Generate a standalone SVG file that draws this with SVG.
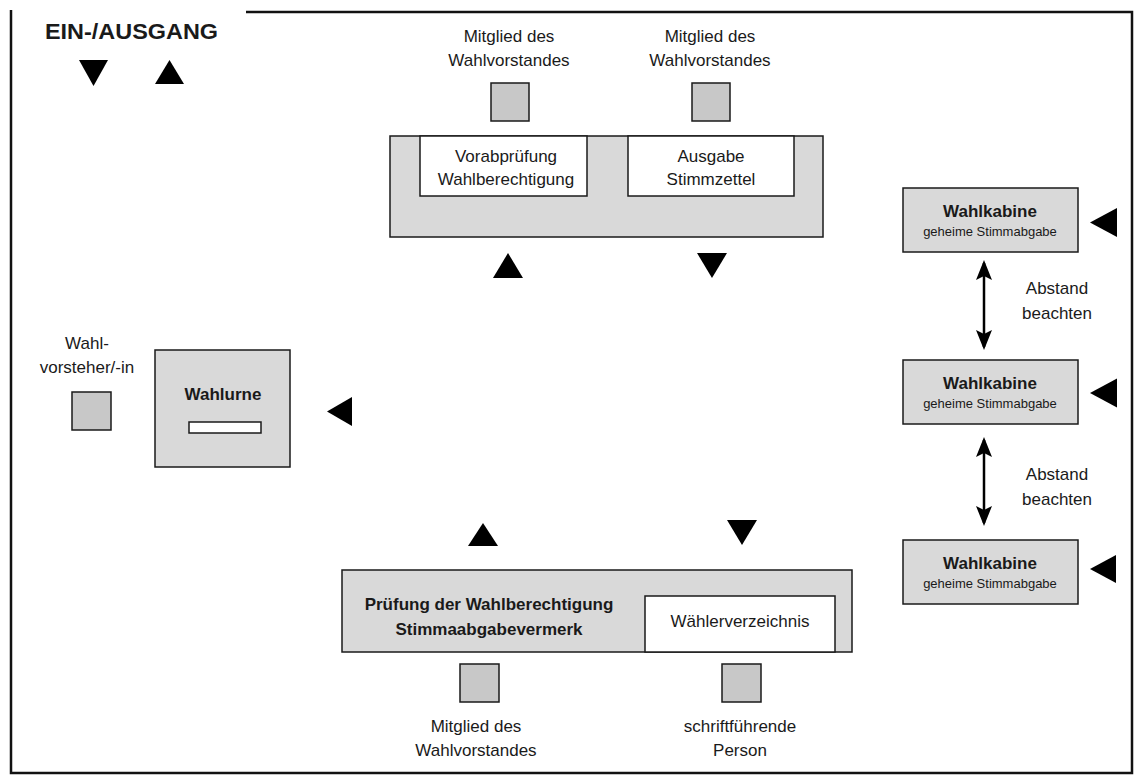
<svg xmlns="http://www.w3.org/2000/svg" width="1136" height="776" viewBox="0 0 1136 776">
<style>
.t{font-family:"Liberation Sans",Arial,sans-serif;font-size:17px;fill:#1a1a1a;text-anchor:middle}
.b{font-weight:bold}
.s{font-size:13px}
.box{fill:#d9d9d9;stroke:#1a1a1a;stroke-width:1.5}
.wb{fill:#ffffff;stroke:#1a1a1a;stroke-width:1.5}
.sq{fill:#c8c8c8;stroke:#1a1a1a;stroke-width:1.5}
.tri{fill:#000}
.frame{fill:none;stroke:#111;stroke-width:2.5}
</style>
<defs>
<marker id="ah" viewBox="0 0 20 16" refX="17" refY="8" markerWidth="20" markerHeight="16" markerUnits="userSpaceOnUse" orient="auto-start-reverse">
<path d="M0,0 L20,8 L0,16 L4,8 z" fill="#000"/>
</marker>
</defs>
<rect width="1136" height="776" fill="#fff"/>
<path class="frame" d="M246,12 H1132 V773 H11 V10"/>

<g id="eingang">
<text class="t b" x="45" y="39" style="text-anchor:start;font-size:22px" textLength="173" lengthAdjust="spacingAndGlyphs">EIN-/AUSGANG</text>
<polygon class="tri" points="79,60 108,60 93.5,86"/>
<polygon class="tri" points="155,84 184,84 169.5,60"/>
</g>

<g id="ausgabe">
<rect class="box" x="390" y="136" width="433" height="101"/>
<rect class="wb" x="420" y="136" width="167" height="60"/>
<rect class="wb" x="628" y="136" width="166" height="60"/>
<text class="t" x="506" y="162">Vorabprüfung</text>
<text class="t" x="506" y="185">Wahlberechtigung</text>
<text class="t" x="711" y="162">Ausgabe</text>
<text class="t" x="711" y="185">Stimmzettel</text>
</g>

<g id="mitglied1">
<text class="t" x="509" y="42">Mitglied des</text>
<text class="t" x="509" y="66">Wahlvorstandes</text>
<rect class="sq" x="491" y="83" width="38" height="38"/>
</g>
<g id="mitglied2">
<text class="t" x="710" y="42">Mitglied des</text>
<text class="t" x="710" y="66">Wahlvorstandes</text>
<rect class="sq" x="692" y="83" width="38" height="38"/>
</g>

<g id="kabine1">
<rect class="box" x="903" y="188" width="175" height="64"/>
<text class="t b" x="990" y="217">Wahlkabine</text>
<text class="t s" x="990" y="236">geheime Stimmabgabe</text>
</g>
<g id="kabine2">
<rect class="box" x="903" y="360" width="175" height="64"/>
<text class="t b" x="990" y="389">Wahlkabine</text>
<text class="t s" x="990" y="408">geheime Stimmabgabe</text>
</g>
<g id="kabine3">
<rect class="box" x="903" y="540" width="175" height="64"/>
<text class="t b" x="990" y="569">Wahlkabine</text>
<text class="t s" x="990" y="588">geheime Stimmabgabe</text>
</g>

<g id="wahlurne">
<rect class="box" x="155" y="350" width="135" height="117"/>
<text class="t b" x="223" y="400">Wahlurne</text>
<rect class="wb" x="189" y="422" width="72" height="11"/>
</g>

<g id="vorsteher">
<text class="t" x="87" y="349">Wahl-</text>
<text class="t" x="87" y="373">vorsteher/-in</text>
<rect class="sq" x="72" y="392" width="39" height="38"/>
</g>

<g id="pruefung">
<rect class="box" x="342" y="570" width="510" height="82"/>
<rect class="wb" x="645" y="596" width="190" height="56"/>
<text class="t b" x="489" y="610">Prüfung der Wahlberechtigung</text>
<text class="t b" x="489" y="635">Stimmaabgabevermerk</text>
<text class="t" x="740" y="627">Wählerverzeichnis</text>
</g>

<g id="mitglied3">
<rect class="sq" x="460" y="664" width="39" height="38"/>
<text class="t" x="476" y="732">Mitglied des</text>
<text class="t" x="476" y="756">Wahlvorstandes</text>
</g>
<g id="schrift">
<rect class="sq" x="722" y="664" width="39" height="38"/>
<text class="t" x="740" y="732">schriftführende</text>
<text class="t" x="740" y="756">Person</text>
</g>

<g id="connectors">
<polygon class="tri" points="493,278 523,278 508,253"/>
<polygon class="tri" points="697,253 727,253 712,278"/>
<polygon class="tri" points="1090,222.5 1117,208 1117,237"/>
<polygon class="tri" points="1090,393 1117,378.5 1117,407.5"/>
<polygon class="tri" points="1090,569 1116,555 1116,583"/>
<polygon class="tri" points="327,411.5 352,397 352,426"/>
<polygon class="tri" points="468,546 498,546 483,523"/>
<polygon class="tri" points="727,520 757,520 742,545"/>
<line x1="984" y1="263" x2="984" y2="347" stroke="#000" stroke-width="2.5" marker-start="url(#ah)" marker-end="url(#ah)"/>
<line x1="984" y1="440" x2="984" y2="523" stroke="#000" stroke-width="2.5" marker-start="url(#ah)" marker-end="url(#ah)"/>
<text class="t" x="1057" y="294">Abstand</text>
<text class="t" x="1057" y="319">beachten</text>
<text class="t" x="1057" y="480">Abstand</text>
<text class="t" x="1057" y="505">beachten</text>
</g>
</svg>
